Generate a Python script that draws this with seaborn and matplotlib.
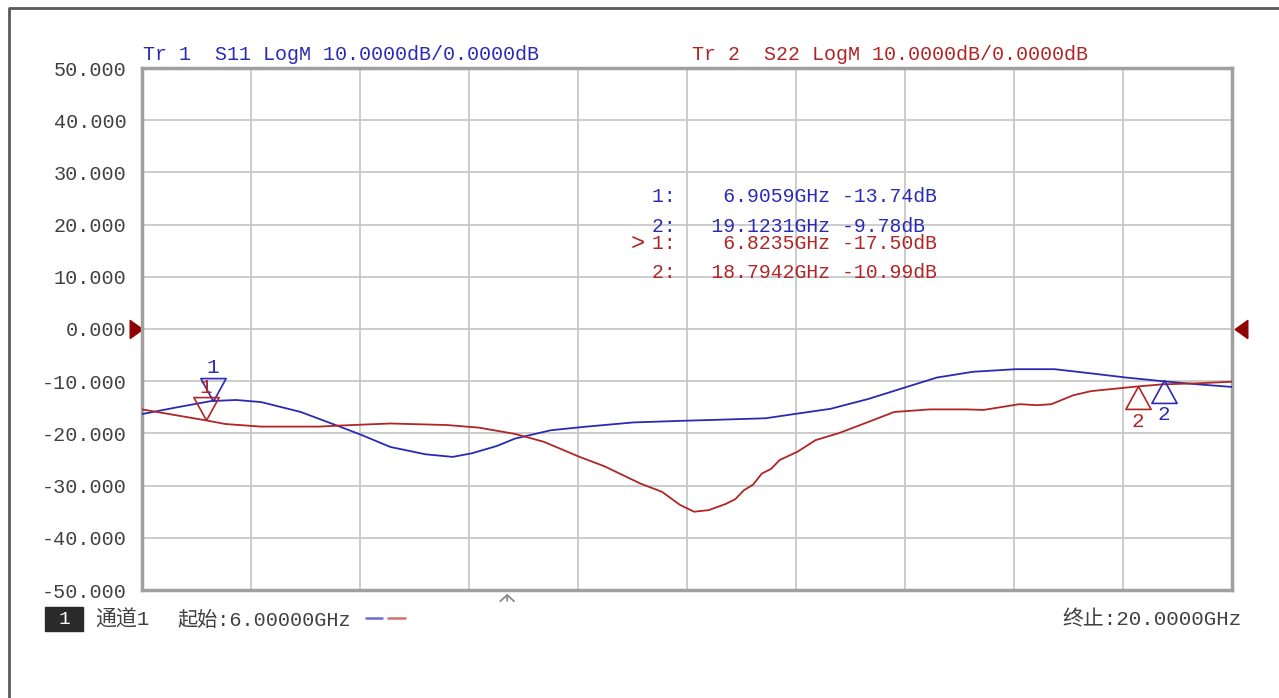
"""Recreate the VNA S11/S22 LogM trace screenshot."""
import numpy as np
import pandas as pd
import matplotlib
matplotlib.use('Agg')
import matplotlib.pyplot as plt
from matplotlib.lines import Line2D
from matplotlib.patches import Rectangle
import matplotlib.transforms as mtransforms
import seaborn as sns

# trace data (GHz, dB)
s11_freq = [6.0, 6.45, 6.89, 7.21, 7.53, 8.04, 8.54, 8.82, 9.19, 9.64, 9.99, 10.24,
            10.56, 10.79, 11.25, 11.71, 12.31, 12.91, 13.37, 14.01, 14.42, 14.84,
            15.33, 15.80, 16.21, 16.67, 17.22, 17.72, 18.19, 18.64, 19.11, 19.56, 20.0]
s11_db = [-16.3, -15.0, -13.8, -13.6, -14.0, -15.9, -18.7, -20.3, -22.6, -24.0, -24.5, -23.8,
          -22.4, -21.0, -19.4, -18.7, -17.9, -17.6, -17.4, -17.1, -16.2, -15.3,
          -13.4, -11.2, -9.3, -8.2, -7.7, -7.7, -8.5, -9.3, -10.0, -10.6, -11.1]

s22_freq = [6.0, 6.43, 6.82, 7.07, 7.53, 8.27, 8.54, 9.19, 9.92, 10.33, 10.79, 11.16,
            11.62, 11.94, 12.40, 12.68, 12.91, 13.09, 13.28, 13.50, 13.62, 13.73, 13.85,
            13.96, 14.08, 14.19, 14.42, 14.65, 14.96, 15.33, 15.66, 16.12, 16.57, 16.81,
            17.27, 17.50, 17.68, 17.96, 18.19, 18.79, 19.11, 19.56, 20.0]
s22_db = [-15.4, -16.5, -17.5, -18.2, -18.7, -18.7, -18.5, -18.1, -18.4, -18.9, -20.1, -21.6,
          -24.5, -26.3, -29.6, -31.2, -33.7, -35.0, -34.7, -33.5, -32.6, -30.9, -29.8,
          -27.7, -26.8, -25.1, -23.5, -21.3, -19.9, -17.8, -15.9, -15.4, -15.4, -15.5,
          -14.4, -14.6, -14.4, -12.7, -11.9, -11.0, -10.6, -10.4, -10.1]

# marker readouts
mk_s11_freq = [6.9059, 19.1231]
mk_s11_db = [-13.74, -9.78]
mk_s22_freq = [6.8235, 18.7942]
mk_s22_db = [-17.50, -10.99]

y_ticks = [50, 40, 30, 20, 10, 0, -10, -20, -30, -40, -50]
start_ghz = 6.0
stop_ghz = 20.0
stim_marker_ghz = 10.69

BLUE = '#2a2ab4'
RED = '#b02525'
W, H = 1279, 698

sns.set_style('white')
plt.rcParams['font.family'] = ['Liberation Mono', 'Noto Sans CJK SC', 'DejaVu Sans']


def px(x, y):
    return x / W, 1 - y / H


fig = plt.figure(figsize=(W / 100, H / 100), dpi=100)
ax = fig.add_axes([142 / W, 1 - 590 / H, 1090 / W, 522 / H])

df = pd.concat([
    pd.DataFrame({'freq': s11_freq, 'db': s11_db, 'trace': 'S11'}),
    pd.DataFrame({'freq': s22_freq, 'db': s22_db, 'trace': 'S22'}),
])
sns.lineplot(data=df, x='freq', y='db', hue='trace', palette={'S11': BLUE, 'S22': RED},
             estimator=None, legend=False, linewidth=1.3, ax=ax, zorder=3)

ax.set_xlim(start_ghz, stop_ghz)
ax.set_ylim(-50, 50)
ax.set_xticks(np.linspace(start_ghz, stop_ghz, 11))
ax.set_xticklabels([])
ax.set_yticks(y_ticks)
ax.set_yticklabels(['%.3f' % v for v in y_ticks])
ax.tick_params(axis='both', length=0)
ax.tick_params(axis='y', pad=11, labelsize=14.5, labelcolor='#404040')
ax.grid(True, color='#c8c8c8', linewidth=1.3)
ax.set_xlabel('')
ax.set_ylabel('')
for sp in ax.spines.values():
    sp.set_visible(True)
    sp.set_color('#a0a0a0')
    sp.set_linewidth(2.5)

# marker triangles: tip on the trace
down_tri = [(0, 0), (-0.55, 1), (0.55, 1), (0, 0)]
up_tri = [(0, 0), (-0.55, -1), (0.55, -1), (0, 0)]
for freqs, dbs, col in [(mk_s11_freq, mk_s11_db, BLUE), (mk_s22_freq, mk_s22_db, RED)]:
    ax.plot(freqs[0], dbs[0], linestyle='none', marker=down_tri, markersize=33,
            markerfacecolor='none', markeredgecolor=col, markeredgewidth=1.2, zorder=4)
    ax.plot(freqs[1], dbs[1], linestyle='none', marker=up_tri, markersize=33,
            markerfacecolor='none', markeredgecolor=col, markeredgewidth=1.2, zorder=4)
    ax.annotate('1', (freqs[0], dbs[0]), xytext=(0, 24), textcoords='offset points',
                ha='center', va='center', color=col, fontsize=15, zorder=5)
    ax.annotate('2', (freqs[1], dbs[1]), xytext=(0, -25), textcoords='offset points',
                ha='center', va='center', color=col, fontsize=15, zorder=5)

# reference level arrows at 0 dB
blend = mtransforms.blended_transform_factory(ax.transAxes, ax.transData)
ref_right = [(-0.35, -0.5), (0.35, 0), (-0.35, 0.5), (-0.35, -0.5)]
ref_left = [(0.35, -0.5), (-0.35, 0), (0.35, 0.5), (0.35, -0.5)]
ax.plot([-0.0055], [0], transform=blend, marker=ref_right, markersize=13,
        color='#900000', linestyle='none', clip_on=False)
ax.plot([1.0083], [0], transform=blend, marker=ref_left, markersize=13,
        color='#900000', linestyle='none', clip_on=False)

# stimulus arrow under the grid
blend_x = mtransforms.blended_transform_factory(ax.transData, ax.transAxes)
ax.annotate('', xy=(stim_marker_ghz, -0.002), xycoords=blend_x,
            xytext=(stim_marker_ghz, -0.026), textcoords=blend_x,
            arrowprops=dict(arrowstyle='->,head_width=0.5,head_length=0.45',
                            color='#8a8a8a', lw=1.3), annotation_clip=False)

# header lines
fig.text(*px(143, 55), 'Tr 1  S11 LogM 10.0000dB/0.0000dB', color=BLUE,
         fontsize=14.4, va='center', ha='left')
fig.text(*px(692, 55), 'Tr 2  S22 LogM 10.0000dB/0.0000dB', color=RED,
         fontsize=14.4, va='center', ha='left')

# marker readout table
rows = [
    (197, BLUE, 1, mk_s11_freq[0], mk_s11_db[0]),
    (226, BLUE, 2, mk_s11_freq[1], mk_s11_db[1]),
    (243, RED, 1, mk_s22_freq[0], mk_s22_db[0]),
    (273, RED, 2, mk_s22_freq[1], mk_s22_db[1]),
]
for y, col, n, f, d in rows:
    line = '%d:   %10s %.2fdB' % (n, '%.4fGHz' % f, d)
    fig.text(*px(652, y), line, color=col, fontsize=14.2, va='center', ha='left')
fig.text(*px(631, 243), '>', color=RED, fontsize=17, va='center', ha='left')

# footer
fig.add_artist(Rectangle((45 / W, 1 - 631 / H), 38 / W, 24 / H, transform=fig.transFigure,
                         facecolor='#2a2a2a', edgecolor='#2a2a2a'))
fig.text(*px(64, 619), '1', color='white', fontsize=14, va='center', ha='center')
fig.text(*px(95, 620), '通道1', color='#404040', fontsize=15, va='center', ha='left')
fig.text(*px(177, 620), '起始:%.5fGHz' % start_ghz, color='#404040', fontsize=14.5,
         va='center', ha='left')
fig.add_artist(Line2D([366 / W, 382 / W], [1 - 617.5 / H] * 2, color='#6a6ad0', lw=1.8))
fig.add_artist(Line2D([388 / W, 405 / W], [1 - 617.5 / H] * 2, color='#d07070', lw=1.8))
fig.text(*px(1242, 620), '终止:%.4fGHz' % stop_ghz, color='#404040', fontsize=15,
         va='center', ha='right')

# outer window frame (left and top only)
fig.add_artist(Line2D([9 / W, 9 / W, 1.0], [0.0, 1 - 8 / H, 1 - 8 / H],
                      color='#5a5a5a', lw=2))

fig.savefig('out.png', dpi=100)
plt.close(fig)
